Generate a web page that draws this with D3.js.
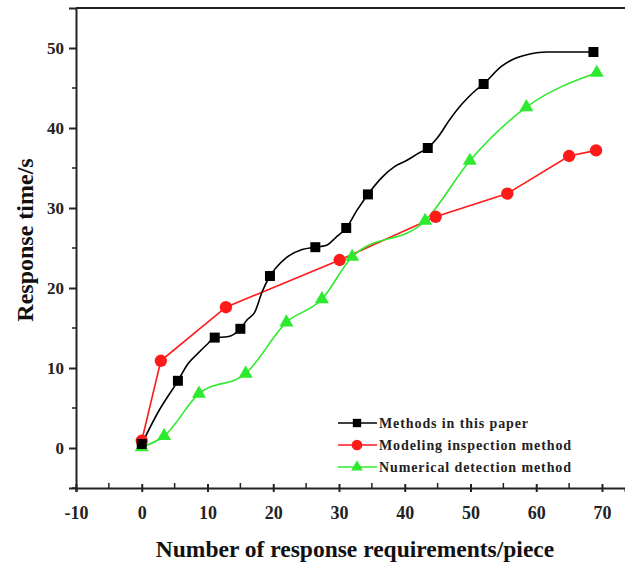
<!DOCTYPE html>
<html>
<head>
<meta charset="utf-8">
<script src="https://cdn.jsdelivr.net/npm/d3@7"></script>
<style>
  body { margin: 0; background: #fff; }
  text { font-family: "Liberation Serif", "Times New Roman", serif; font-weight: bold; }
</style>
</head>
<body>
<div class="chart"></div>
<script>
var svgWidth = 625;
var svgHeight = 567;

// marker points
var blackX = [0, 5.5, 11.1, 15, 19.5, 26.4, 31.1, 34.4, 43.5, 52, 68.7];
var blackY = [0.5, 8.4, 13.8, 14.9, 21.5, 25.1, 27.5, 31.7, 37.5, 45.5, 49.5];

// the black curve wanders between its markers, so its path is traced separately
var blackPathX = [0, 2.5, 5.5, 7, 8.5, 10, 11.1, 13, 15, 16, 17.2, 18.3, 19.5, 20.5, 22, 24.4, 26.4, 28, 29.5, 31.1,
  32.8, 34.4, 36.5, 38.5, 40.2, 42, 43.5, 45, 46.8, 48.7, 50.5, 52, 54.7, 56.5, 58.3, 61.7, 65, 68.7];
var blackPathY = [0.5, 4.5, 8.4, 10.5, 11.8, 13, 13.8, 13.9, 14.9, 16, 17, 19.5, 21.5, 22.6, 23.8, 24.8, 25.1, 25.3, 26.3, 27.5,
  29.8, 31.7, 33.8, 35.2, 35.9, 36.8, 37.5, 38.8, 41, 43, 44.5, 45.5, 47.7, 48.6, 49.1, 49.5, 49.5, 49.5];

var redX = [0, 2.9, 12.8, 30.1, 44.7, 55.6, 65, 69.1];
var redY = [0.9, 10.9, 17.6, 23.5, 28.9, 31.8, 36.5, 37.2];

var greenX = [0, 3.4, 8.7, 15.8, 22, 27.4, 32, 43.1, 49.9, 58.5, 69.2];
var greenY = [0.1, 1.5, 6.8, 9.3, 15.7, 18.6, 23.9, 28.4, 35.9, 42.6, 46.9];

var legendNames = ["Methods in this paper", "Modeling inspection method", "Numerical detection method"];
var xTicks = [-10, 0, 10, 20, 30, 40, 50, 60, 70];
var yTicks = [0, 10, 20, 30, 40, 50];

var black = "#000000", red = "#ff1a1a", green = "#2eea2e";

var svg = d3.select(".chart").append("svg")
  .attr("width", svgWidth)
  .attr("height", svgHeight);

var x = d3.scaleLinear().domain([-10, 73.5]).range([76, 625]);
var y = d3.scaleLinear().domain([-5, 55]).range([488, 8]);

function zip(xs, ys) {
  return xs.map(function(v, i) { return [v, ys[i]]; });
}

// plain hyphen for negatives, like the original
var fmt = function(d) { return String(d); };

// frame top line
svg.append("line")
  .attr("x1", 76).attr("x2", 625)
  .attr("y1", y(55)).attr("y2", y(55))
  .attr("stroke", "#222").attr("stroke-width", 2);

// y axis
var yAxis = svg.append("g")
  .attr("transform", "translate(76,0)")
  .call(d3.axisLeft(y).tickValues(yTicks).tickSize(7).tickPadding(5).tickFormat(fmt));
yAxis.select(".domain").attr("stroke", "#222").attr("stroke-width", 2);
yAxis.selectAll(".tick line").attr("stroke", "#222").attr("stroke-width", 2);
yAxis.selectAll(".tick text").style("font-size", "17px").attr("fill", "#222");

svg.append("g").selectAll("line")
  .data(d3.range(-5, 55, 10))
  .enter().append("line")
  .attr("x1", 72).attr("x2", 76)
  .attr("y1", d => y(d)).attr("y2", d => y(d))
  .attr("stroke", "#222").attr("stroke-width", 1.5);

// x axis
var xAxis = svg.append("g")
  .attr("transform", "translate(0,488)")
  .call(d3.axisBottom(x).tickValues(xTicks).tickSize(4).tickPadding(14).tickFormat(fmt));
xAxis.select(".domain").attr("stroke", "#222").attr("stroke-width", 2);
xAxis.selectAll(".tick line").attr("y1", -4).attr("stroke", "#222").attr("stroke-width", 2);
xAxis.selectAll(".tick text").style("font-size", "18px").attr("fill", "#222");

svg.append("g").selectAll("line")
  .data(d3.range(-5, 75, 10))
  .enter().append("line")
  .attr("x1", d => x(d)).attr("x2", d => x(d))
  .attr("y1", 483).attr("y2", 488)
  .attr("stroke", "#222").attr("stroke-width", 1.5);

// axis titles
svg.append("text")
  .attr("x", 355).attr("y", 557)
  .attr("text-anchor", "middle")
  .style("font-size", "23.5px")
  .attr("fill", "#111")
  .text("Number of response requirements/piece");

svg.append("text")
  .attr("transform", "translate(25,240) rotate(-90)")
  .attr("text-anchor", "middle")
  .attr("dominant-baseline", "central")
  .style("font-size", "24px")
  .attr("fill", "#111")
  .text("Response time/s");

// lines
var straight = d3.line().x(d => x(d[0])).y(d => y(d[1]));
var smooth = d3.line().x(d => x(d[0])).y(d => y(d[1])).curve(d3.curveMonotoneX);

svg.append("path").datum(zip(redX, redY))
  .attr("d", straight).attr("fill", "none").attr("stroke", red).attr("stroke-width", 1.6);
svg.append("path").datum(zip(greenX, greenY))
  .attr("d", smooth).attr("fill", "none").attr("stroke", green).attr("stroke-width", 1.6);
svg.append("path").datum(zip(blackPathX, blackPathY))
  .attr("d", smooth).attr("fill", "none").attr("stroke", black).attr("stroke-width", 1.6);

// markers
var square = d3.symbol().type(d3.symbolSquare).size(100);
var circle = d3.symbol().type(d3.symbolCircle).size(120);
var triangle = d3.symbol().type(d3.symbolTriangle).size(85);

function drawMarkers(pts, sym, color) {
  svg.append("g").selectAll("path")
    .data(pts)
    .enter().append("path")
    .attr("transform", d => `translate(${x(d[0])},${y(d[1])})`)
    .attr("d", sym)
    .attr("fill", color);
}
drawMarkers(zip(redX, redY), circle, red);
drawMarkers(zip(greenX, greenY), triangle, green);
drawMarkers(zip(blackX, blackY), square, black);

// legend
var legendColors = [black, red, green];
var legendSyms = [d3.symbol().type(d3.symbolSquare).size(70), d3.symbol().type(d3.symbolCircle).size(90), d3.symbol().type(d3.symbolTriangle).size(60)];
var legend = svg.append("g");
legendNames.forEach(function(name, i) {
  var ly = 423 + i * 22;
  legend.append("line")
    .attr("x1", 338).attr("x2", 377).attr("y1", ly).attr("y2", ly)
    .attr("stroke", legendColors[i]).attr("stroke-width", 1.6);
  legend.append("path")
    .attr("transform", `translate(357,${ly})`)
    .attr("d", legendSyms[i])
    .attr("fill", legendColors[i]);
  legend.append("text")
    .attr("x", 379).attr("y", ly + 5)
    .style("font-size", "14px")
    .style("letter-spacing", "0.9px")
    .attr("fill", "#222")
    .text(name);
});
</script>
</body>
</html>
